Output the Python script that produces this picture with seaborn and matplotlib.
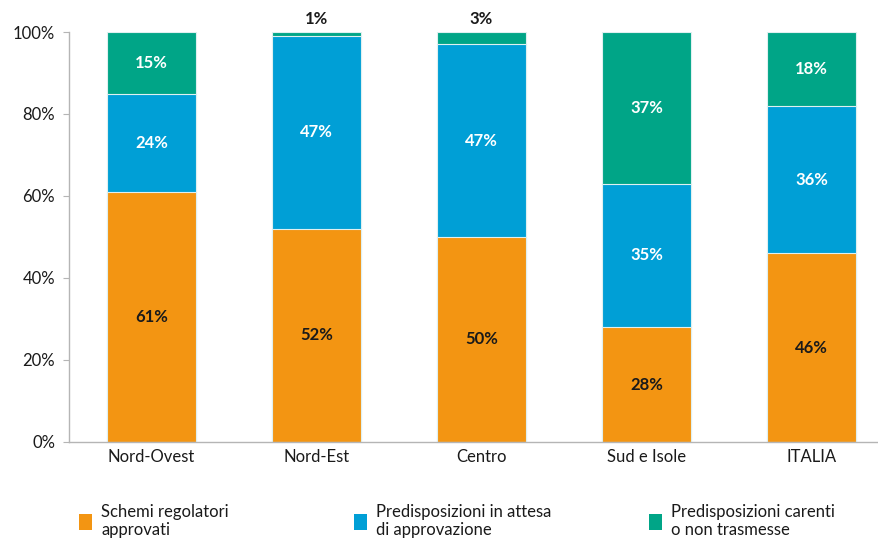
import seaborn as sns
import matplotlib
import matplotlib.pyplot as plt
import pandas as pd
from matplotlib.patches import Patch
matplotlib.use('Agg')

regioni = ["Nord-Ovest", "Nord-Est", "Centro", "Sud e Isole", "ITALIA"]
approvati = [61, 52, 50, 28, 46]
in_attesa = [24, 47, 47, 35, 36]
carenti = [15, 1, 3, 37, 18]

serie = ["Schemi regolatori\napprovati",
         "Predisposizioni in attesa\ndi approvazione",
         "Predisposizioni carenti\no non trasmesse"]
colori = ["#F39512", "#009FD6", "#00A587"]

sns.set_style("white")
plt.rcParams['font.family'] = ['Lato', 'DejaVu Sans']

df = pd.DataFrame({"Regione": regioni, "a": approvati, "b": in_attesa, "c": carenti})
df["ab"] = df["a"] + df["b"]
df["abc"] = df["ab"] + df["c"]

fig = plt.figure(figsize=(8.79, 5.42), dpi=100)
ax = fig.add_axes([69 / 879, 100 / 542, 825 / 879, 410 / 542])

# stacked bars: tallest layer first
for col, c in zip(["abc", "ab", "a"], colori[::-1]):
    sns.barplot(data=df, x="Regione", y=col, color=c, width=0.545,
                saturation=1, edgecolor="#dff0f0", linewidth=0.8, ax=ax)

txt = "#1a1a1a"
fs = 12
for i in range(len(regioni)):
    a, b, c = approvati[i], in_attesa[i], carenti[i]
    ax.text(i, a / 2, f"{a}%", ha="center", va="center", fontsize=fs,
            fontweight="bold", color=txt)
    ax.text(i, a + b / 2, f"{b}%", ha="center", va="center", fontsize=fs,
            fontweight="bold", color="white")
    if c >= 5:
        ax.text(i, a + b + c / 2, f"{c}%", ha="center", va="center",
                fontsize=fs, fontweight="bold", color="white")
    else:
        ax.text(i, 101.2, f"{c}%", ha="center", va="bottom", fontsize=fs,
                fontweight="bold", color=txt, clip_on=False)

ax.set_xlim(-0.5, 4.5)
ax.set_ylim(0, 100)
ax.set_yticks(range(0, 101, 20))
ax.set_yticklabels([f"{v}%" for v in range(0, 101, 20)], fontsize=12, color=txt)
ax.set_xticks(range(len(regioni)))
ax.set_xticklabels(regioni, fontsize=12, color=txt)
ax.set_xticks([0.5, 1.5, 2.5, 3.5], minor=True)
ax.tick_params(axis="x", which="major", length=0, pad=5)
ax.tick_params(axis="x", which="minor", length=4, color="#b5b5b5")
ax.tick_params(axis="y", length=4, color="#b5b5b5", pad=6, left=True)
ax.set_xlabel("")
ax.set_ylabel("")
sns.despine(ax=ax, top=True, right=True)
for s in ["left", "bottom"]:
    ax.spines[s].set_color("#b5b5b5")
    ax.spines[s].set_linewidth(1)

xs = [72 / 879, 347 / 879, 642 / 879]
for lab, c, x in zip(serie, colori, xs):
    leg = fig.legend(handles=[Patch(facecolor=c, edgecolor="none", label=lab)],
                     loc="upper left", bbox_to_anchor=(x, 45 / 542), frameon=False,
                     fontsize=12, handlelength=0.8, handleheight=1.1,
                     handletextpad=0.55, borderaxespad=0, labelcolor=txt)
    for t in leg.get_texts():
        t.set_linespacing(1.2)

fig.savefig("out.png", dpi=100)
plt.close()
